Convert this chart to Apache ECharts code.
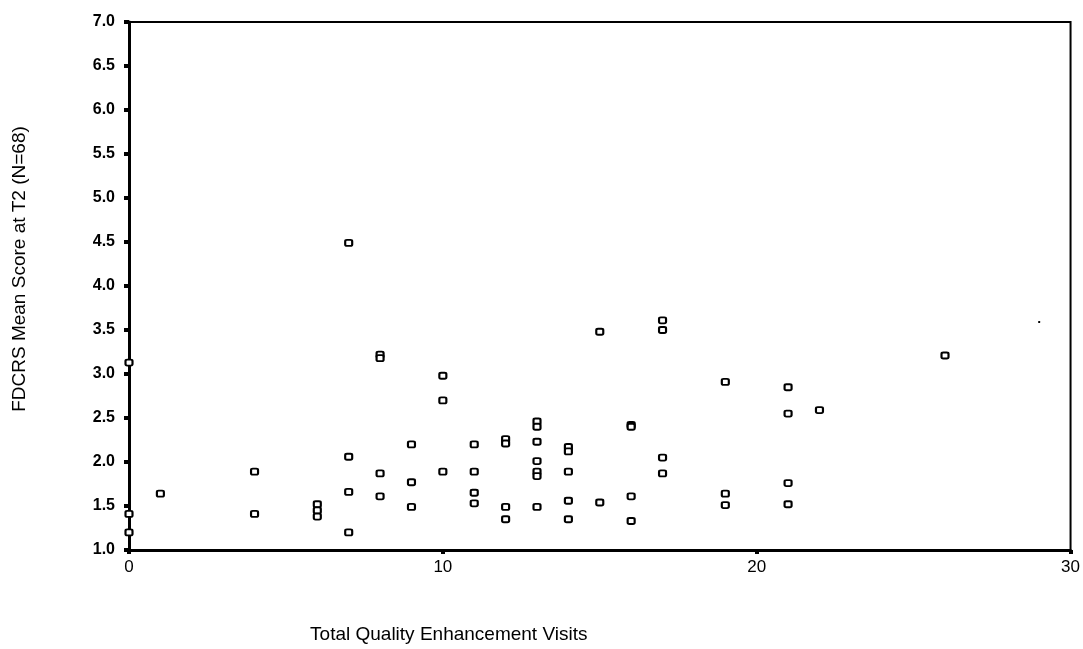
<!DOCTYPE html>
<html>
<head>
<meta charset="utf-8">
<script src="https://cdn.jsdelivr.net/npm/echarts@6/dist/echarts.min.js"></script>
<style>
html,body{margin:0;padding:0;background:#fff;}
#chart{width:1083px;height:649px;}
</style>
</head>
<body>
<div id="chart"></div>
<script>
// Data
var visits = [0,0,0, 1, 4,4, 6,6,6, 7,7,7,7, 8,8,8,8, 9,9,9, 10,10,10, 11,11,11,11,
  12,12,12,12, 13,13,13,13,13,13,13, 14,14,14,14,14, 15,15, 16,16,16,16, 17,17,17,17,
  19,19,19, 21,21,21,21, 22, 26, 29];
var scores = [3.13,1.41,1.20, 1.64, 1.89,1.41, 1.52,1.45,1.38, 4.49,2.06,1.66,1.20,
  3.22,3.18,1.87,1.61, 2.20,1.77,1.49, 2.98,2.70,1.89, 2.20,1.89,1.65,1.53,
  2.26,2.21,1.49,1.35, 2.46,2.40,2.23,2.01,1.89,1.84,1.49, 2.17,2.12,1.89,1.56,1.35,
  3.48,1.54, 2.42,2.40,1.61,1.33, 3.61,3.50,2.05,1.87,
  2.91,1.64,1.51, 2.85,2.55,1.76,1.52, 2.59, 3.21, 3.59];
var xTicks = [0,10,20,30];
var yTicks = [1.0,1.5,2.0,2.5,3.0,3.5,4.0,4.5,5.0,5.5,6.0,6.5,7.0];
var xTitle = 'Total Quality Enhancement Visits';
var yTitle = 'FDCRS Mean Score at T2 (N=68)';

var lastIdx = visits.length - 1;
var pts = visits.map(function(v,i){
  var item = {value:[v, scores[i]]};
  if (i === lastIdx) { item.symbolSize = 2; item.itemStyle = {color:'#000',borderWidth:0}; }
  return item;
});
var chart = echarts.init(document.getElementById('chart'));
chart.setOption({
  animation:false,
  backgroundColor:'#fff',
  grid:{left:129,right:7,top:22,bottom:98,show:true,borderColor:'#000',borderWidth:2,backgroundColor:'transparent'},
  xAxis:{
    type:'value',min:xTicks[0],max:xTicks[xTicks.length-1],interval:10,
    name:xTitle,nameLocation:'middle',nameGap:75,
    nameTextStyle:{fontFamily:'Liberation Sans',fontSize:19,color:'#000',padding:[0,302,0,0]},
    axisLine:{show:true,onZero:false,lineStyle:{color:'#000',width:3}},
    axisTick:{show:true,length:4,lineStyle:{color:'#000',width:4}},
    axisLabel:{fontFamily:'Liberation Sans Narrow, Liberation Sans',fontSize:17,color:'#000',margin:9},
    splitLine:{show:false}
  },
  yAxis:{
    type:'value',min:yTicks[0],max:yTicks[yTicks.length-1],interval:0.5,
    name:yTitle,nameLocation:'middle',nameGap:100,nameRotate:90,
    nameTextStyle:{fontFamily:'Liberation Sans',fontSize:19,color:'#000',padding:[0,0,0,34]},
    axisLine:{show:true,onZero:false,lineStyle:{color:'#000',width:3}},
    axisTick:{show:true,length:5,lineStyle:{color:'#000',width:4}},
    axisLabel:{fontFamily:'Liberation Sans',fontSize:16,fontWeight:'bold',color:'#000',margin:14,
      formatter:function(v){return v.toFixed(1);}},
    splitLine:{show:false}
  },
  series:[{
    type:'scatter',
    data:pts,
    symbol:'roundRect',
    symbolSize:[7,6],
    itemStyle:{color:'#fff',borderColor:'#000',borderWidth:2,opacity:1}
  }]
});
</script>
</body>
</html>
